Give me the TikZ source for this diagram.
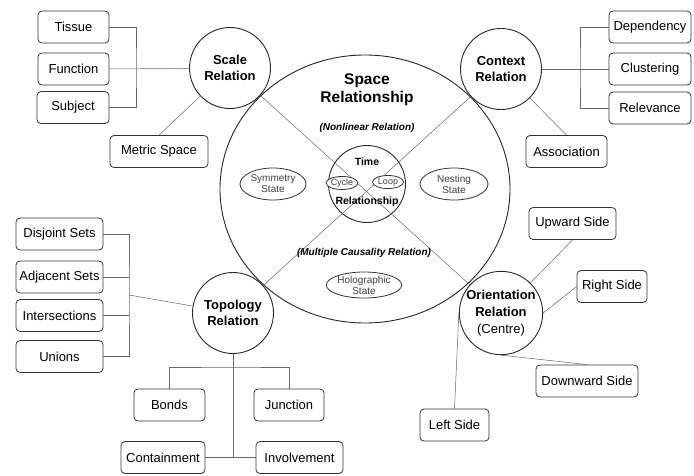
\documentclass[tikz,border=0pt]{standalone}
\usepackage{fontspec}
\setmainfont{Liberation Sans}
\usetikzlibrary{shapes.geometric}

\begin{document}
\begin{tikzpicture}[x=1pt,y=-1pt,
    box/.style={draw=black!80,line width=0.8pt,rounded corners=4pt,minimum height=32pt,
                inner sep=1pt,font=\fontsize{13}{15}\selectfont},
    rel/.style={draw=black!85,circle,line width=0.9pt,minimum size=81pt,inner sep=0pt,
                align=center,font=\fontsize{13}{16}\selectfont\bfseries},
    state/.style={draw=black!80,ellipse,line width=0.8pt,inner sep=0pt,align=center,
                fill=white,text=black!75,font=\fontsize{10}{11}\selectfont},
    note/.style={font=\fontsize{10}{12}\selectfont\bfseries\itshape},
    link/.style={draw=black!60,line width=0.5pt}]
    \useasboundingbox (0,0) rectangle (694,475);

    % the space relationship
    \node[draw=black!85,ellipse,line width=0.9pt,minimum width=290pt,minimum height=268pt,
          inner sep=0pt] (space) at (365,189) {};
    \node[draw=black!85,circle,line width=0.9pt,minimum size=77pt,inner sep=0pt] (time) at (367,184) {};

    \node[rel] (scale) at (230,68) {Scale\\Relation};
    \node[rel] (context) at (501,69) {Context\\Relation};
    \node[rel] (topo) at (233,313) {Topology\\Relation};
    \node[rel,font=\fontsize{13}{17}\selectfont\bfseries] (orient) at (501,313)
        {Orientation\\Relation\\{\mdseries (Centre)}};

    \path[link] (scale) -- (orient);
    \path[link] (context) -- (topo);

    \node[font=\fontsize{15.5}{18}\selectfont\bfseries,align=center] (spacelbl) at (367,90) {Space\\Relationship};
    \node[note] (nonlin) at (367,128) {(Nonlinear Relation)};
    \node[note] (multi) at (364,253) {(Multiple Causality Relation)};
    \node[font=\fontsize{10.5}{12}\selectfont\bfseries] (timelbl) at (367,162) {Time};
    \node[font=\fontsize{10.5}{12}\selectfont\bfseries] (timerel) at (367,202) {Relationship};

    \node[state,minimum width=66pt,minimum height=32pt] (symmetry) at (273,184) {Symmetry\\State};
    \node[state,minimum width=68pt,minimum height=32pt] (nesting) at (454,184) {Nesting\\State};
    \node[state,minimum width=67pt,minimum height=26pt] (holo) at (364,285) {Holographic\\State};
    \node[state,minimum width=31pt,minimum height=13pt,font=\fontsize{9}{10}\selectfont] (cycle) at (342,183) {Cycle};
    \node[state,minimum width=31pt,minimum height=13pt,font=\fontsize{9}{10}\selectfont] (loop) at (388,182) {Loop};

    \foreach \n/\x/\y/\w/\t in {tissue/73.5/27/71/Tissue, function/73.5/69/71/Function,
                                subject/73/107.5/72/Subject, metric/159/151.5/98/Metric Space,
                                dependency/650/27/82/Dependency, clustering/650/69/82/Clustering,
                                relevance/650/108/82/Relevance, association/566.5/151.5/81/Association,
                                disjoint/59.5/234/87/Disjoint Sets, adjacent/59.5/277/87/Adjacent Sets,
                                intersections/59.5/315.5/87/Intersections, unions/59.5/356.5/87/Unions,
                                bonds/169.5/405/71/Bonds, junction/289/405/70/Junction,
                                containment/163/457.5/84/Containment, involvement/299.5/457.5/87/Involvement,
                                upside/572.5/223.5/87/Upward Side, rightside/612/286.5/70/Right Side,
                                downside/587/381/102/Downward Side, leftside/454.5/425/69/Left Side}
        \node[box,minimum width=\w pt] (\n) at (\x,\y) {\t};

    \coordinate (scalebar) at (136,69);
    \path[link] (tissue.east) -| (scalebar) |- (subject.east);
    \path[link] (function.east) -- (scale);
    \path[link] (metric.north) -- (scale);

    \coordinate (ctxbar) at (580,69);
    \path[link] (dependency.west) -| (ctxbar) |- (relevance.west);
    \path[link] (context) -- (clustering.west);
    \path[link] (association.north) -- (context);

    \coordinate (topobar) at (129,295);
    \path[link] (disjoint.east) -| (topobar) |- (unions.east);
    \path[link] (adjacent.east) -- (adjacent.east -| topobar);
    \path[link] (intersections.east) -- (intersections.east -| topobar);
    \path[link] (topobar) -- (topo);

    \coordinate (treebar) at (233,367);
    \coordinate (treefoot) at (233,457.5);
    \path[link] (topo) -- (treefoot);
    \path[link] (bonds.north) |- (treebar) -| (junction.north);
    \path[link] (containment.east) -- (involvement.west);

    \path[link] (upside.south) -- (orient);
    \path[link] (rightside.west) -- (orient.east);
    \path[link] (orient.south) -- (downside.north);
    \path[link] (leftside.north) -- (orient.west);

\end{tikzpicture}
\end{document}
